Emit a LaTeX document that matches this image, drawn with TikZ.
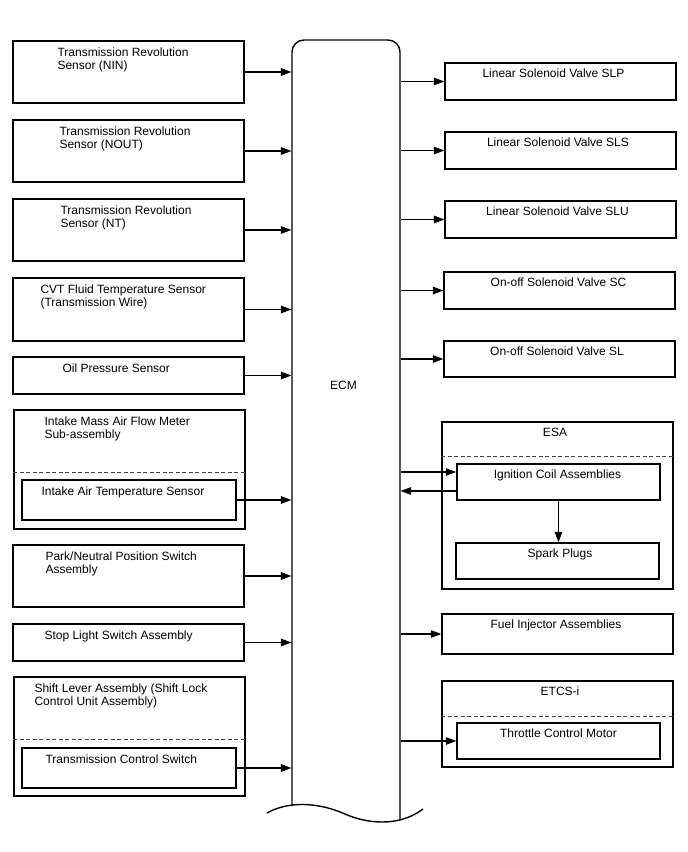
\documentclass[tikz,border=0pt]{standalone}
\usepackage{fontspec}
\setmainfont{Liberation Sans}
\usetikzlibrary{arrows.meta,calc}

\begin{document}
\begin{tikzpicture}[
  x=1pt, y=-1pt,
  font=\fontsize{12}{13.5}\selectfont,
  line width=1.1pt,
  box/.style={draw, line width=1.3pt, inner sep=0pt, minimum width=231pt},
  grp/.style={draw, line width=1.3pt, inner sep=0pt, minimum width=231pt},
  inbox/.style={draw, line width=1.3pt, inner sep=0pt},
  lbl/.style={anchor=north west, inner sep=0pt, align=left},
  clbl/.style={anchor=north, inner sep=0pt},
  sep/.style={dash pattern=on 4pt off 2.5pt, line width=0.9pt, black!75},
  >={Triangle[length=10.5pt,width=7.5pt]}
]
\useasboundingbox (0,0) rectangle (688,852);

% ECM body
\node[minimum width=108pt, minimum height=775pt, inner sep=0pt] (ecm) at (346,427.5) {};
\draw[line width=1.4pt, rounded corners=12pt] (292,806) -- (292,40) -- (400,40) -- (400,820);
\draw[line width=1.4pt] (267,813) .. controls (288,801) and (318,802) .. (345,814)
  .. controls (365,823) and (398,828) .. (423,809);
\node (ecmT) at (343.5,385.5) {ECM};

% Inputs
\node[box, minimum height=62pt] (nin)  at (128.5,72) {};
\node[lbl] (ninT) at (57,47) {Transmission Revolution\\Sensor (NIN)};
\node[box, minimum height=62pt] (nout) at (128.5,151) {};
\node[lbl] (noutT) at (59,126) {Transmission Revolution\\Sensor (NOUT)};
\node[box, minimum height=62pt] (nt)   at (128.5,230) {};
\node[lbl] (ntT) at (60,205) {Transmission Revolution\\Sensor (NT)};
\node[box, minimum height=63pt] (cvt)  at (128.5,309.5) {};
\node[lbl] (cvtT) at (40,284) {CVT Fluid Temperature Sensor\\(Transmission Wire)};
\node[box, minimum height=37pt] (oil)  at (128.5,375.5) {};
\node[lbl] (oilT) at (62,363) {Oil Pressure Sensor};

\node[grp, minimum height=119pt] (maf) at (129.5,469.5) {};
\node[lbl] (mafT) at (44,416) {Intake Mass Air Flow Meter\\Sub-assembly};
\draw[sep] ($(maf.north west)+(0,63)$) -- ($(maf.north east)+(0,63)$);
\node[inbox, minimum width=214pt, minimum height=40pt] (iat) at (129,500) {};
\node[lbl] (iatT) at (41,486) {Intake Air Temperature Sensor};

\node[box, minimum height=62pt] (pnp)  at (128.5,576) {};
\node[lbl] (pnpT) at (45,551) {Park/Neutral Position Switch\\Assembly};
\node[box, minimum height=37pt] (stop) at (128.5,642.5) {};
\node[lbl] (stopT) at (44,630) {Stop Light Switch Assembly};

\node[grp, minimum height=119pt] (shift) at (129.5,736.5) {};
\node[lbl] (shiftT) at (34,683) {Shift Lever Assembly (Shift Lock\\Control Unit Assembly)};
\draw[sep] ($(shift.north west)+(0,63)$) -- ($(shift.north east)+(0,63)$);
\node[inbox, minimum width=214pt, minimum height=40pt] (tcs) at (129,768) {};
\node[lbl] (tcsT) at (45,754) {Transmission Control Switch};

\foreach \n in {nin,nout,nt,cvt,oil,iat,pnp,stop,tcs}
  \draw[->] (\n.east) -- (\n.east -| ecm.west);

% Outputs
\node[box, minimum height=37pt] (slp) at (560.5,81.5) {};
\node[clbl] (slpT) at (553.5,68.5) {Linear Solenoid Valve SLP};
\node[box, minimum height=37pt] (sls) at (560.5,150.5) {};
\node[clbl] (slsT) at (558,137.5) {Linear Solenoid Valve SLS};
\node[box, minimum height=37pt] (slu) at (560.5,219.5) {};
\node[clbl] (sluT) at (557.5,206.5) {Linear Solenoid Valve SLU};
\node[box, minimum height=37pt] (sc)  at (559.5,290.5) {};
\node[clbl] (scT) at (558.5,277.5) {On-off Solenoid Valve SC};
\node[box, minimum height=36pt] (sl)  at (559.5,359) {};
\node[clbl] (slT) at (557,346.5) {On-off Solenoid Valve SL};

\node[grp, minimum height=167pt] (esa) at (557.5,505.5) {};
\node[clbl] (esaT) at (555,427.5) {ESA};
\draw[sep] ($(esa.north west)+(0,35)$) -- ($(esa.north east)+(0,35)$);
\node[inbox, minimum width=203pt, minimum height=36pt] (ign) at (558.5,482) {};
\node[clbl] (ignT) at (557.5,469.5) {Ignition Coil Assemblies};
\node[inbox, minimum width=203pt, minimum height=36pt] (spark) at (557.5,561) {};
\node[clbl] (sparkT) at (560,548.5) {Spark Plugs};

\node[box, minimum height=40pt] (inj) at (557.5,634) {};
\node[clbl] (injT) at (556,619.5) {Fuel Injector Assemblies};

\node[grp, minimum height=86pt] (etcs) at (557.5,724) {};
\node[clbl] (etcsT) at (560,686.5) {ETCS-i};
\draw[sep] ($(etcs.north west)+(0,36)$) -- ($(etcs.north east)+(0,36)$);
\node[inbox, minimum width=203pt, minimum height=36pt] (thr) at (558.5,741) {};
\node[clbl] (thrT) at (558.5,728.5) {Throttle Control Motor};

\foreach \n in {slp,sls,slu,sc,sl,inj,thr}
  \draw[->] (ecm.east |- \n.west) -- (\n.west);

\coordinate (ignin) at ($(ign.west)+(0,-10)$);
\coordinate (ignout) at ($(ign.west)+(0,9)$);
\draw[->] (ignin -| ecm.east) -- (ignin);
\draw[->] (ignout) -- (ignout -| ecm.east);
\draw[->] (ign.south) -- (ign.south |- spark.north);
\end{tikzpicture}
\end{document}
